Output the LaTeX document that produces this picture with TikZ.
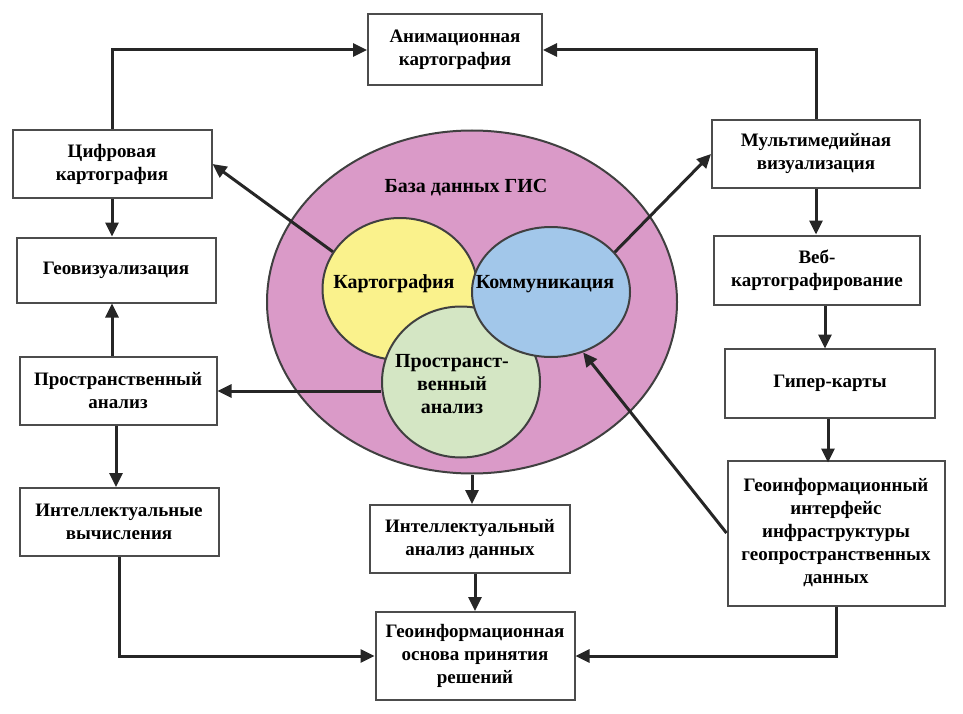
\documentclass[tikz,border=0pt]{standalone}
\usepackage{fontspec}
\setmainfont{Liberation Serif}
\usetikzlibrary{arrows.meta,shapes.geometric}

\definecolor{pinkgis}{RGB}{218,154,200}
\definecolor{yelgis}{RGB}{250,242,140}
\definecolor{blugis}{RGB}{162,199,234}
\definecolor{grngis}{RGB}{212,230,196}

\begin{document}
\begin{tikzpicture}[x=1pt,y=-1pt]
\useasboundingbox (0,0) rectangle (963,714);

\tikzset
{%定义样式
  blk/.style={draw=black!70,line width=2pt,fill=white,align=center,inner sep=2pt,
    font=\fontsize{19}{23}\selectfont\bfseries},
  ell/.style={ellipse,draw=black!75,line width=2pt,inner sep=0pt},
  lbl/.style={align=center,inner sep=0pt,font=\fontsize{20}{23}\selectfont\bfseries},
  arr/.style={draw=black!85,line width=3pt,-{Triangle[length=14pt,width=13pt]}},
}

\node[ell,fill=pinkgis,minimum width=410,minimum height=343] (db) at (472,302) {};
\node[ell,fill=yelgis,minimum width=155,minimum height=142] (yel) at (400,289) {};
\node[ell,fill=grngis,minimum width=158,minimum height=151] (grn) at (461,382) {};
\node[ell,fill=blugis,minimum width=158,minimum height=130] (blu) at (551,292) {};

\node[lbl] (dbt) at (466,188) {База данных ГИС};
\node[lbl] (yelt) at (394,284) {Картография};
\node[lbl] (blut) at (545,284) {Коммуникация};
\node[lbl] (grnt) at (452,384) {Пространст-\\венный\\анализ};

\node[blk,minimum width=174,minimum height=71] (anim) at (455,50) {Анимационная\\картография};
\node[blk,minimum width=199,minimum height=68] (cifr) at (112,164) {Цифровая\\картография};
\node[blk,minimum width=199,minimum height=65] (geoviz) at (116,270) {Геовизуализация};
\node[blk,minimum width=197,minimum height=68] (prost) at (118,391) {Пространственный\\анализ};
\node[blk,minimum width=199,minimum height=68] (intel) at (119,522) {Интеллектуальные\\вычисления};
\node[blk,minimum width=200,minimum height=68] (intan) at (470,539) {Интеллектуальный\\анализ данных};
\node[blk,minimum width=199,minimum height=88] (osnova) at (475,656) {Геоинформационная\\основа принятия\\решений};
\node[blk,minimum width=208,minimum height=68] (mult) at (816,154) {Мультимедийная\\визуализация};
\node[blk,minimum width=206,minimum height=69] (veb) at (817,270) {Веб-\\картографирование};
\node[blk,minimum width=210,minimum height=69] (giper) at (830,383) {Гипер-карты};
\node[blk,minimum width=217,minimum height=145] (geoint) at (836,533) {Геоинформационный\\интерфейс\\инфраструктуры\\геопространственных\\данных};

\draw[arr] (cifr.north) |- (anim.west);
\draw[arr] (mult.north) |- (anim.east);
\draw[arr] (cifr.south) -- (cifr.south |- geoviz.north);
\draw[arr] (prost.north -| cifr.south) -- (cifr.south |- geoviz.south);
\draw[arr] (prost.south -| geoviz.north) -- (geoviz.north |- intel.north);
\draw[arr] (intel.south) |- (osnova.west);
\draw[arr] (geoint.south) |- (osnova.east);
\draw[arr] (intan.south -| osnova.north) -- (osnova.north);
\draw[arr] (db.south) -- (db.south |- intan.north);
\draw[arr] (mult.south) -- (mult.south |- veb.north);
\draw[arr] (veb.south -| giper.north) ++(-5,0) -- ++(0,43);
\draw[arr] (giper.south) ++(-2,0) -- ++(0,44);
\draw[arr] (yel.151) -- (cifr.east);
\draw[arr] (blu.32) -- (mult.west);
\draw[arr] (prost.east -| grn.west) -- (prost.east);
\draw[arr] (geoint.west) -- (blu.-62);
\end{tikzpicture}
\end{document}
